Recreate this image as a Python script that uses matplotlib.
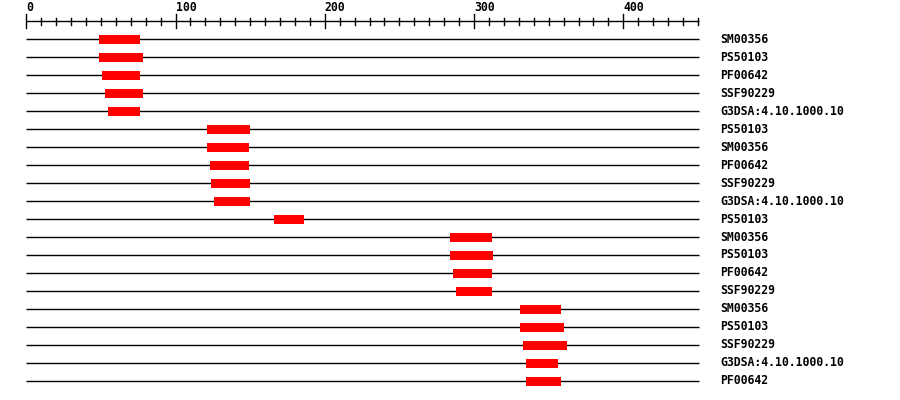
import numpy as np
import matplotlib
matplotlib.use("Agg")
import matplotlib.pyplot as plt

# ==================== 数据 ====================
labels = ["SM00356", "PS50103", "PF00642", "SSF90229", "G3DSA:4.10.1000.10",
          "PS50103", "SM00356", "PF00642", "SSF90229", "G3DSA:4.10.1000.10",
          "PS50103",
          "SM00356", "PS50103", "PF00642", "SSF90229",
          "SM00356", "PS50103", "SSF90229", "G3DSA:4.10.1000.10", "PF00642"]
starts = [49, 49, 51, 53, 55,
          121, 121, 123, 124, 126,
          166,
          284, 284, 286, 288,
          331, 331, 333, 335, 335]
ends = [76, 78, 76, 78, 76,
        150, 149, 149, 150, 150,
        186,
        312, 313, 312, 312,
        358, 360, 362, 356, 358]
seq_len = 451
major_ticks = [0, 100, 200, 300, 400]

# ==================== 坐标换算 ====================
# 像素: x = 26.3 + 1.4925*u ; y = 39 + 18*row
W, H = 900, 400
px0, scale = 26.3, 1.4925
fig = plt.figure(figsize=(W / 100, H / 100), dpi=100)
ax = fig.add_axes([0, 0, 1, 1])
ax.set_xlim(-px0 / scale, (W - px0) / scale)
ax.set_ylim((H - 39) / 18, -39 / 18)
ax.axis("off")

font = dict(family="DejaVu Sans Mono", fontweight="bold", fontsize=8.3)

# 标尺
ax.plot([0, seq_len], [-1, -1], color="black", lw=1, solid_capstyle="butt")
for t in range(0, seq_len, 10):
    if t in major_ticks:
        ax.plot([t, t], [-1.39, -0.61], color="black", lw=1)
        ax.text(t, -1.75, str(t), ha="left", va="center", **font)
    else:
        ax.plot([t, t], [-1.17, -0.8], color="black", lw=1)

# 每条结构域
for i, (lab, s, e) in enumerate(zip(labels, starts, ends)):
    ax.plot([0, seq_len], [i, i], color="black", lw=1, solid_capstyle="butt", zorder=2)
    ax.add_patch(plt.Rectangle((s, i - 0.25), e - s, 0.5, facecolor="#ff0000",
                               edgecolor="none", lw=0, zorder=3))
    ax.text(465, i, lab, ha="left", va="center", **font)

fig.savefig("out.png", dpi=100)
